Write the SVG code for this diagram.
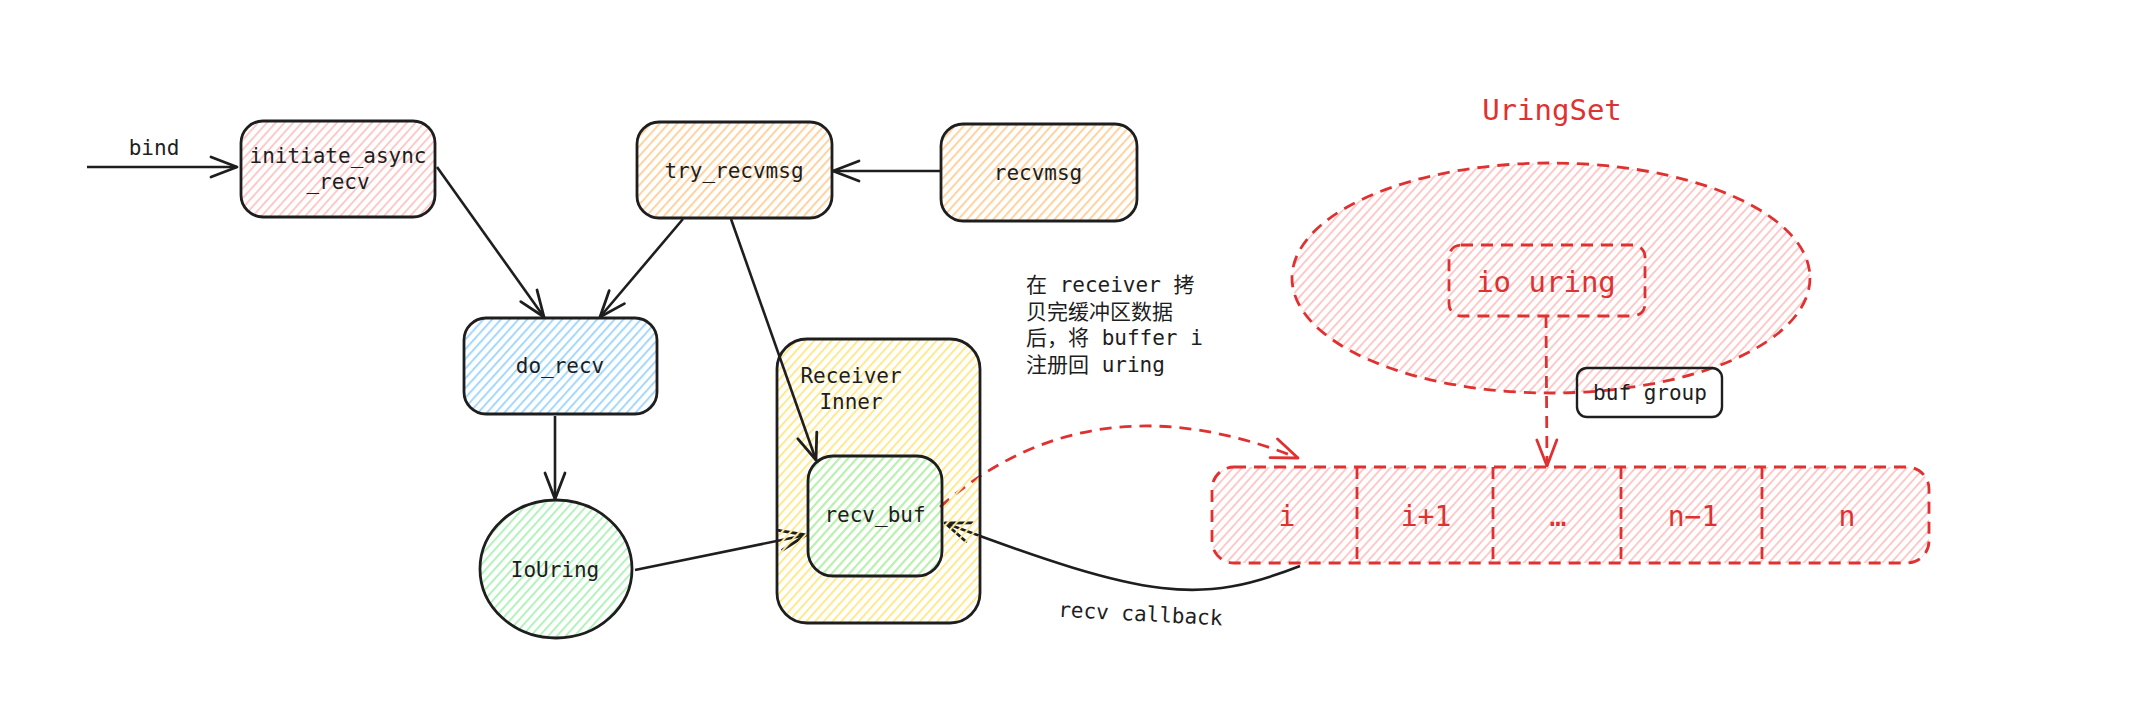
<svg xmlns="http://www.w3.org/2000/svg" width="2148" height="722" viewBox="0 0 2148 722">
<defs>
<style>
.t{font-family:"DejaVu Sans Mono","Liberation Mono","Noto Sans CJK SC",monospace;font-size:21px;fill:#1e1e1e;text-anchor:middle}
.cn{text-anchor:start}
.r{fill:#e03131}
.big{font-size:29px}
.cell{font-size:28px}
.box{stroke:#1e1e1e;stroke-width:2.8}
.con{fill:none;stroke:#1e1e1e;stroke-width:2.6}
.dash{fill:none;stroke:#e03131;stroke-width:2.8;stroke-dasharray:12 8}
.hr{fill:url(#hRed)}
</style>
<pattern id="hRed" width="6.5" height="6.5" patternUnits="userSpaceOnUse" patternTransform="rotate(42)"><line x1="1" y1="-1" x2="1" y2="8" stroke="#ffc4c4" stroke-width="1.8"/></pattern>
<pattern id="hOrange" width="6.5" height="6.5" patternUnits="userSpaceOnUse" patternTransform="rotate(42)"><line x1="1" y1="-1" x2="1" y2="8" stroke="#ffd2a0" stroke-width="2"/></pattern>
<pattern id="hBlue" width="6.5" height="6.5" patternUnits="userSpaceOnUse" patternTransform="rotate(42)"><line x1="1" y1="-1" x2="1" y2="8" stroke="#a5d8ff" stroke-width="2"/></pattern>
<pattern id="hGreen" width="6.5" height="6.5" patternUnits="userSpaceOnUse" patternTransform="rotate(42)"><line x1="1" y1="-1" x2="1" y2="8" stroke="#b2f2bb" stroke-width="2"/></pattern>
<pattern id="hYellow" width="6.5" height="6.5" patternUnits="userSpaceOnUse" patternTransform="rotate(42)"><line x1="1" y1="-1" x2="1" y2="8" stroke="#ffe98f" stroke-width="2"/></pattern>
<marker id="ah" markerUnits="userSpaceOnUse" markerWidth="30" markerHeight="24" viewBox="0 0 30 24" refX="28" refY="12" orient="auto"><path d="M2,2 L28,12 L2,22" fill="none" stroke="#1e1e1e" stroke-width="2.8" stroke-linecap="round" stroke-linejoin="round"/></marker>
<marker id="ahr" markerUnits="userSpaceOnUse" markerWidth="30" markerHeight="24" viewBox="0 0 30 24" refX="28" refY="12" orient="auto"><path d="M2,2 L28,12 L2,22" fill="none" stroke="#e03131" stroke-width="2.8" stroke-linecap="round" stroke-linejoin="round"/></marker>
</defs>
<rect width="2148" height="722" fill="#ffffff"/>

<g id="uringset">
<text class="t r big" x="1552" y="120">UringSet</text>
<ellipse cx="1551" cy="278" rx="259" ry="115" class="dash hr"/>
</g>

<g id="connectors">
<line class="con" x1="87" y1="167" x2="237" y2="167" marker-end="url(#ah)"/>
<text class="t" x="154" y="155">bind</text>
<line class="con" x1="437" y1="167" x2="544" y2="317" marker-end="url(#ah)"/>
<line class="con" x1="683" y1="219" x2="600" y2="317" marker-end="url(#ah)"/>
<line class="con" x1="941" y1="171" x2="833" y2="171" marker-end="url(#ah)"/>
<line class="con" x1="555" y1="416" x2="555" y2="499" marker-end="url(#ah)"/>
<line class="con" x1="635" y1="570" x2="806" y2="535" marker-end="url(#ah)"/>
<path class="con" d="M1300,566 C1200,605 1150,600 945,523" marker-end="url(#ah)"/>
<text class="t" x="1140" y="621" transform="rotate(3 1140 621)">recv callback</text>
<path class="dash" d="M940,507 Q1090,375 1298,458" marker-end="url(#ahr)"/>
<line class="dash" x1="1546" y1="316" x2="1547" y2="466" marker-end="url(#ahr)"/>
</g>

<g id="initiate_async_recv">
<rect class="box" x="241" y="121" width="194" height="96" rx="22" fill="url(#hRed)"/>
<text class="t" x="338" y="163">initiate_async</text>
<text class="t" x="338" y="189">_recv</text>
</g>

<g id="try_recvmsg">
<rect class="box" x="637" y="122" width="195" height="96" rx="22" fill="url(#hOrange)"/>
<text class="t" x="734" y="178">try_recvmsg</text>
</g>

<g id="recvmsg">
<rect class="box" x="941" y="124" width="196" height="97" rx="22" fill="url(#hOrange)"/>
<text class="t" x="1038" y="180">recvmsg</text>
</g>

<g id="do_recv">
<rect class="box" x="464" y="318" width="193" height="96" rx="22" fill="url(#hBlue)"/>
<text class="t" x="560" y="373">do_recv</text>
</g>

<g id="iouring">
<ellipse class="box" cx="556" cy="569" rx="76" ry="69" fill="url(#hGreen)" stroke-width="3.2"/>
<text class="t" x="555" y="577">IoUring</text>
</g>

<g id="receiver_inner">
<rect class="box" x="777" y="339" width="203" height="284" rx="30" fill="url(#hYellow)"/>
<text class="t" x="851" y="383">Receiver</text>
<text class="t" x="851" y="409">Inner</text>
</g>

<line class="con" x1="731" y1="219" x2="816" y2="460" marker-end="url(#ah)"/>

<g id="recv_buf">
<rect class="box" x="808" y="456" width="134" height="120" rx="25" fill="url(#hGreen)"/>
<text class="t" x="875" y="522">recv_buf</text>
</g>

<g id="note">
<text class="t cn" x="1026" y="292">在 receiver 拷</text>
<text class="t cn" x="1026" y="319">贝完缓冲区数据</text>
<text class="t cn" x="1026" y="345">后，将 buffer i</text>
<text class="t cn" x="1026" y="372">注册回 uring</text>
</g>

<g id="io_uring">
<rect class="dash" x="1449" y="245" width="196" height="71" rx="12"/>
<text class="t r big" x="1546" y="292">io uring</text>
</g>

<g id="buf_group">
<rect x="1577" y="368" width="145" height="49" rx="10" fill="none" stroke="#1e1e1e" stroke-width="2.4"/>
<text class="t" x="1650" y="400" font-size="20">buf group</text>
</g>

<g id="buffers">
<rect class="dash hr" x="1212" y="467" width="717" height="96" rx="22"/>
<line class="dash" x1="1357" y1="467" x2="1357" y2="563"/>
<line class="dash" x1="1493" y1="467" x2="1493" y2="563"/>
<line class="dash" x1="1621" y1="467" x2="1621" y2="563"/>
<line class="dash" x1="1762" y1="467" x2="1762" y2="563"/>
<text class="t r cell" x="1287" y="526">i</text>
<text class="t r cell" x="1426" y="526">i+1</text>
<text class="t r cell" x="1558" y="526">…</text>
<text class="t r cell" x="1693" y="526">n−1</text>
<text class="t r cell" x="1847" y="526">n</text>
</g>
</svg>
